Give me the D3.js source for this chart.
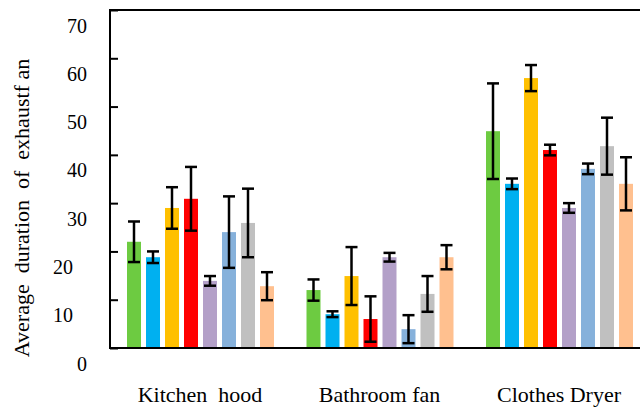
<!DOCTYPE html>
<meta charset="utf-8">
<script src="https://cdn.jsdelivr.net/npm/d3@7"></script>
<style>
  body { margin: 0; background: #fff; }
  text { font-family: "Liberation Serif", "Times New Roman", serif; }
</style>
<div id="my_dataviz"></div>
<script>

// data
var categories = ["Kitchen  hood", "Bathroom fan", "Clothes Dryer"];
var series = ["s1", "s2", "s3", "s4", "s5", "s6", "s7", "s8"];
var colors = ["#6dcb41", "#00b0f0", "#ffc000", "#ff0000", "#b3a0c8", "#86b1db", "#c0c0c0", "#ffc08f"];

var kitchenMean = [22.0, 18.8, 29.0, 30.9, 13.9, 24.0, 25.9, 12.8];
var kitchenErr  = [4.2, 1.2, 4.3, 6.6, 1.0, 7.4, 7.1, 2.9];
var bathMean    = [12.0, 7.0, 14.9, 6.0, 18.8, 3.9, 11.2, 18.8];
var bathErr     = [2.2, 0.6, 6.0, 4.7, 0.9, 2.9, 3.7, 2.5];
var dryerMean   = [44.9, 34.0, 55.9, 41.0, 29.0, 37.1, 41.8, 34.0];
var dryerErr    = [9.9, 1.1, 2.7, 1.1, 1.0, 1.1, 5.9, 5.5];

var yTicks = [0, 10, 20, 30, 40, 50, 60, 70];
var yTitle = "Average  duration  of  exhaustf an";

var means = [kitchenMean, bathMean, dryerMean];
var errs = [kitchenErr, bathErr, dryerErr];

var data = [];
categories.forEach(function(c, i) {
  series.forEach(function(s, j) {
    data.push({cat: c, ser: s, color: colors[j], v: means[i][j], e: errs[i][j]});
  });
});

var W = 640, H = 408;
var plotLeft = 110, plotTop = 10, plotBottom = 348;

var svg = d3.select("#my_dataviz")
  .append("svg")
    .attr("width", W)
    .attr("height", H);

var y = d3.scaleLinear()
  .domain([0, 70])
  .range([plotBottom, plotTop]);

var x0 = d3.scaleBand()
  .domain(categories)
  .range([127, 127 + 3 * 179.5]);

var x1 = d3.scaleBand()
  .domain(series)
  .range([0, 147])
  .paddingInner(5 / 19);

// bars
svg.append("g")
  .selectAll("rect")
  .data(data)
  .enter()
  .append("rect")
    .attr("x", function(d) { return x0(d.cat) + x1(d.ser) })
    .attr("y", function(d) { return y(d.v) })
    .attr("width", x1.bandwidth())
    .attr("height", function(d) { return y(0) - y(d.v) })
    .attr("fill", function(d) { return d.color });

// error bars
var eb = svg.append("g")
  .attr("stroke", "#000")
  .attr("stroke-width", 2.5)
  .selectAll("g")
  .data(data)
  .enter()
  .append("g")
    .attr("transform", function(d) { return "translate(" + (x0(d.cat) + x1(d.ser) + x1.bandwidth() / 2) + ",0)" });

eb.append("line")
  .attr("y1", function(d) { return y(d.v + d.e) })
  .attr("y2", function(d) { return y(d.v - d.e) });
eb.append("line")
  .attr("x1", -6).attr("x2", 6)
  .attr("y1", function(d) { return y(d.v + d.e) })
  .attr("y2", function(d) { return y(d.v + d.e) });
eb.append("line")
  .attr("x1", -6).attr("x2", 6)
  .attr("y1", function(d) { return y(d.v - d.e) })
  .attr("y2", function(d) { return y(d.v - d.e) });

// frame
svg.append("path")
  .attr("d", "M" + W + "," + plotTop + "H" + plotLeft + "V" + plotBottom + "H" + W)
  .attr("fill", "none")
  .attr("stroke", "#000")
  .attr("stroke-width", 2);

// y axis, ticks pointing inward, labels sit low like in the original
var yAxis = svg.append("g")
  .attr("transform", "translate(" + plotLeft + ",0)")
  .call(d3.axisLeft(y).tickValues(yTicks).tickSizeInner(-8).tickSizeOuter(0).tickPadding(23));
yAxis.select(".domain").remove();
yAxis.selectAll("line").attr("stroke-width", 2);
yAxis.selectAll("text")
  .attr("font-size", 20)
  .attr("fill", "#000")
  .attr("dy", "1.1em")
  .attr("font-family", "Liberation Serif, serif")
  .attr("dx", function(d) { return (d == 10 || d == 20) ? -14 : 0 });

// y title
svg.append("text")
  .attr("transform", "translate(29,208) rotate(-90)")
  .attr("text-anchor", "middle")
  .attr("font-size", 22)
  .style("white-space", "pre")
  .text(yTitle);

// category labels
svg.append("g")
  .selectAll("text")
  .data(categories)
  .enter()
  .append("text")
    .attr("x", function(d) { return x0(d) + 73 })
    .attr("y", 402)
    .attr("text-anchor", "middle")
    .attr("font-size", 22)
    .style("white-space", "pre")
    .text(function(d) { return d });

</script>
